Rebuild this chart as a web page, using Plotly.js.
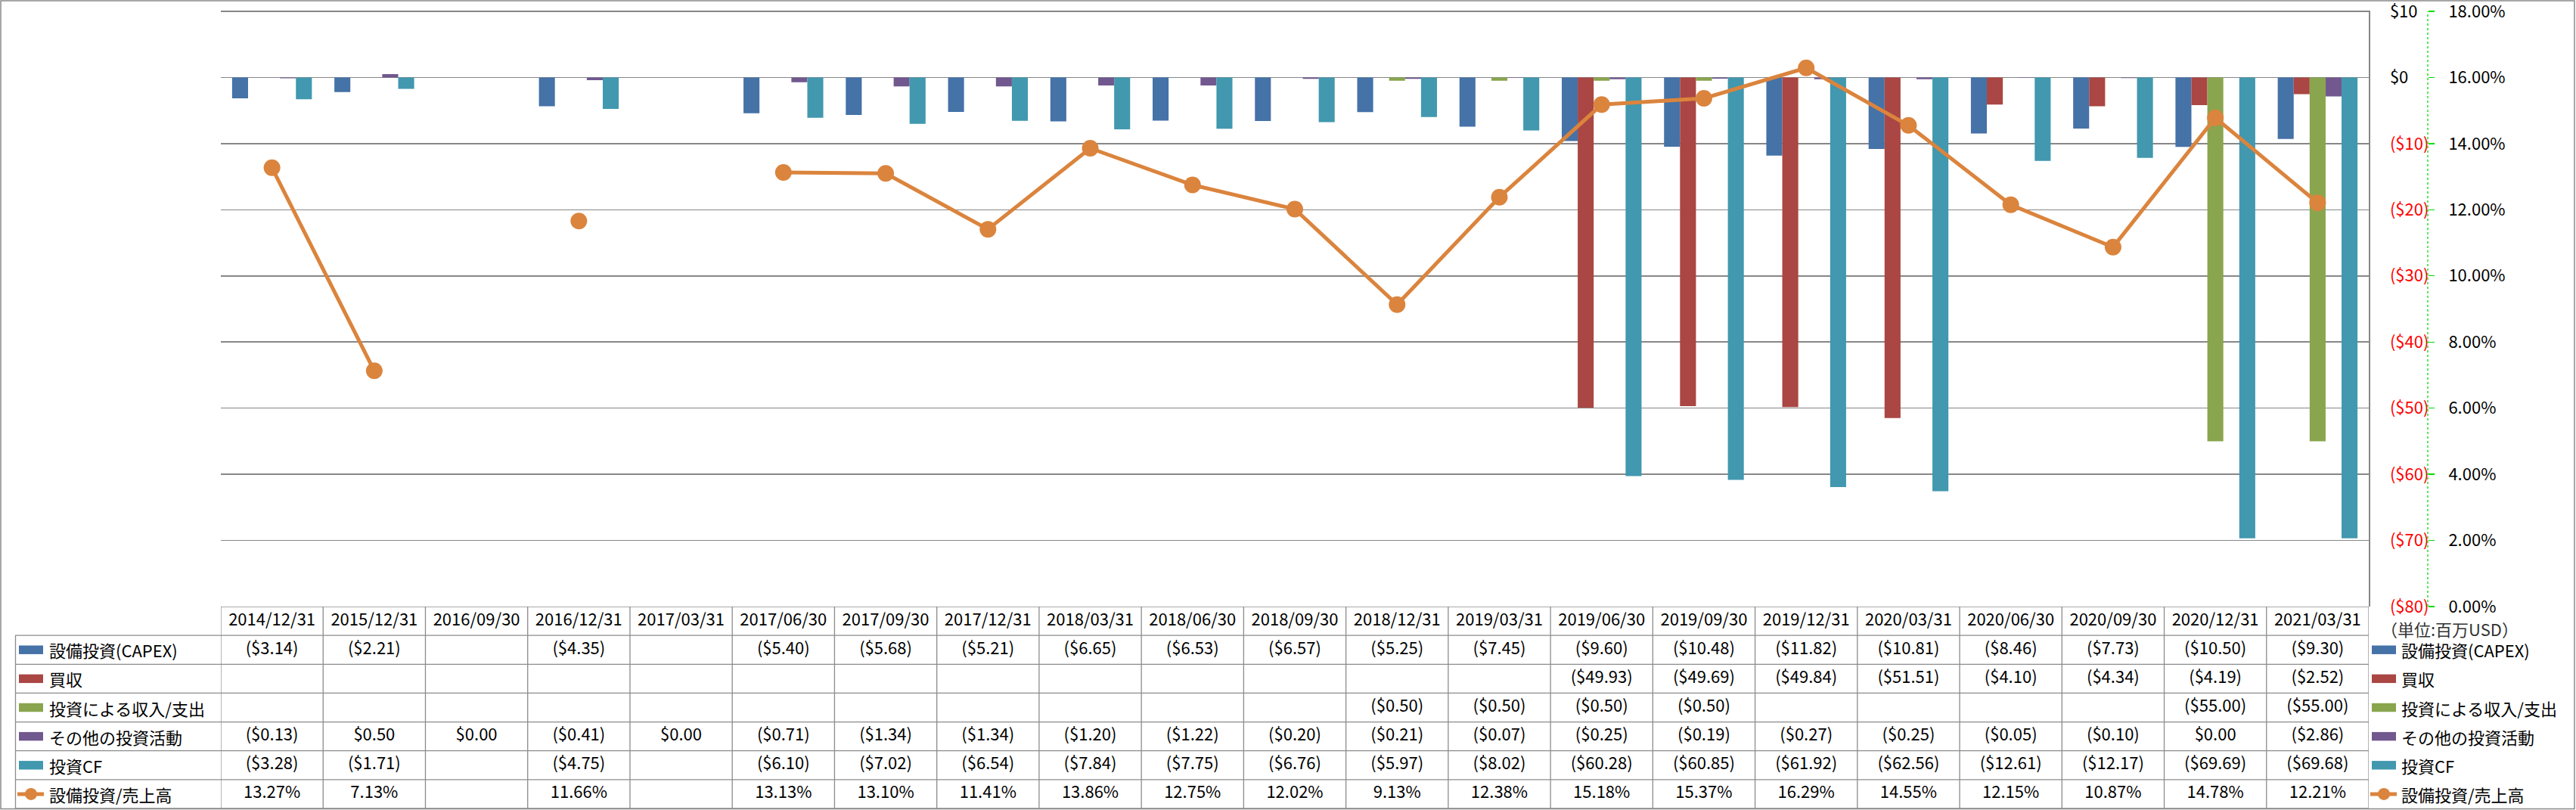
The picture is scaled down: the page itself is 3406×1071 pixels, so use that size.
<!DOCTYPE html>
<html>
<head>
<meta charset="utf-8">
<script src="https://cdn.plot.ly/plotly-3.0.1.min.js"></script>
<style>html,body{margin:0;padding:0;background:#fff;}#chart{width:3406px;height:1071px;}</style>
</head>
<body>
<div id="chart"></div>
<script>
// ---------- DATA ----------
const categories = ['2014/12/31','2015/12/31','2016/09/30','2016/12/31','2017/03/31','2017/06/30','2017/09/30','2017/12/31','2018/03/31','2018/06/30','2018/09/30','2018/12/31','2019/03/31','2019/06/30','2019/09/30','2019/12/31','2020/03/31','2020/06/30','2020/09/30','2020/12/31','2021/03/31'];
const capex        = [-3.14,-2.21,null,-4.35,null,-5.40,-5.68,-5.21,-6.65,-6.53,-6.57,-5.25,-7.45,-9.60,-10.48,-11.82,-10.81,-8.46,-7.73,-10.50,-9.30];
const acquisition  = [null,null,null,null,null,null,null,null,null,null,null,null,null,-49.93,-49.69,-49.84,-51.51,-4.10,-4.34,-4.19,-2.52];
const investIncome = [null,null,null,null,null,null,null,null,null,null,null,-0.50,-0.50,-0.50,-0.50,null,null,null,null,-55.00,-55.00];
const otherInvest  = [-0.13,0.50,0.00,-0.41,0.00,-0.71,-1.34,-1.34,-1.20,-1.22,-0.20,-0.21,-0.07,-0.25,-0.19,-0.27,-0.25,-0.05,-0.10,0.00,-2.86];
const investCF     = [-3.28,-1.71,null,-4.75,null,-6.10,-7.02,-6.54,-7.84,-7.75,-6.76,-5.97,-8.02,-60.28,-60.85,-61.92,-62.56,-12.61,-12.17,-69.69,-69.68];
const capexRatio   = [13.27,7.13,null,11.66,null,13.13,13.10,11.41,13.86,12.75,12.02,9.13,12.38,15.18,15.37,16.29,14.55,12.15,10.87,14.78,12.21];
const seriesNames  = ['設備投資(CAPEX)','買収','投資による収入/支出','その他の投資活動','投資CF','設備投資/売上高'];
const dollarTickVals = [10,0,-10,-20,-30,-40,-50,-60,-70,-80];
const dollarTickText = ['$10','$0','($10)','($20)','($30)','($40)','($50)','($60)','($70)','($80)'];
const pctTickVals = [0,2,4,6,8,10,12,14,16,18];
const pctTickText = ['0.00%','2.00%','4.00%','6.00%','8.00%','10.00%','12.00%','14.00%','16.00%','18.00%'];
const unitLabel = '（単位:百万USD）';

// ---------- STYLE ----------
const W = 3406, H = 1071;
const colors = ['#4572A7','#AA4643','#89A54E','#71588F','#4198AF','#DB843D'];
const FONT = '"Noto Sans CJK JP", "Noto Sans", sans-serif';
const gridGray = '#878787';
const tableGray = '#8C8C8C';
const px = v => v / W;        // pixel -> paper x
const py = v => 1 - v / H;    // pixel -> paper y

const plotLeft = 292, plotRight = 3132, plotTop = 15, plotBottom = 802;
const tableTop = 802, tableBottom = 1069;
// small headroom so the top gridline is not clipped at the plot edge
const yMin = -80, yMax = 10, headroom = 0.16;
const pxPerUnit = (plotBottom - plotTop) / (yMax - yMin);
const domTop = plotTop - headroom * pxPerUnit;
const pMin = 0, pMax = 18;

const barSeries = [capex, acquisition, investIncome, otherInvest, investCF];

const traces = [];
barSeries.forEach((vals, k) => {
  traces.push({
    type: 'bar', name: seriesNames[k], x: categories, y: vals,
    marker: {color: colors[k], line: {width: 0}},
    xaxis: 'x', yaxis: 'y', hoverinfo: 'skip'
  });
});
traces.push({
  type: 'scatter', mode: 'lines+markers', name: seriesNames[5],
  x: categories, y: capexRatio, connectgaps: false,
  line: {color: colors[5], width: 5},
  marker: {color: colors[5], size: 22},
  xaxis: 'x', yaxis: 'y2', hoverinfo: 'skip'
});

// table cells
function fmtMoney(v) {
  if (v === null || v === undefined) return '';
  const s = '$' + Math.abs(v).toFixed(2);
  return v < 0 ? '(' + s + ')' : s;
}
function fmtPct(v) { return (v === null || v === undefined) ? '' : v.toFixed(2) + '%'; }

traces.push({
  type: 'scatter', mode: 'text', x: categories, y: categories.map(() => 0),
  text: categories, textposition: 'middle center',
  textfont: {family: FONT, size: 22, color: '#000'},
  xaxis: 'x', yaxis: 'y3', hoverinfo: 'skip', cliponaxis: false
});
const rowsData = [...barSeries, capexRatio];
rowsData.forEach((vals, r) => {
  const xs = [], ys = [], ts = [];
  vals.forEach((v, i) => {
    if (v !== null) { xs.push(categories[i]); ys.push(r + 1); ts.push(r === 5 ? fmtPct(v) : fmtMoney(v)); }
  });
  traces.push({
    type: 'scatter', mode: 'text', x: xs, y: ys, text: ts, textposition: 'middle center',
    textfont: {family: FONT, size: 22, color: '#000'},
    xaxis: 'x', yaxis: 'y3', hoverinfo: 'skip', cliponaxis: false
  });
});

// shapes
const shapes = [];
// outer border
shapes.push({type: 'rect', xref: 'paper', yref: 'paper', x0: px(1), x1: px(W - 2), y0: py(H - 1.5), y1: py(1),
  line: {color: '#8A8A8A', width: 1.5}, fillcolor: 'rgba(0,0,0,0)', layer: 'above'});
// table horizontal lines
shapes.push({type: 'line', xref: 'x', yref: 'y3', x0: -0.5, x1: categories.length - 0.5, y0: -0.5, y1: -0.5,
  line: {color: tableGray, width: 1.3}});
for (let r = 0; r <= 6; r++) {
  shapes.push({type: 'line', xref: 'paper', yref: 'y3', x0: px(20), x1: px(plotRight), y0: r + 0.5, y1: r + 0.5,
    line: {color: tableGray, width: 1.3}});
}
// table vertical lines
for (let i = 0; i <= categories.length; i++) {
  shapes.push({type: 'line', xref: 'x', yref: 'y3', x0: i - 0.5, x1: i - 0.5, y0: -0.5, y1: 6.5,
    line: {color: tableGray, width: 1.3}});
}
shapes.push({type: 'line', xref: 'paper', yref: 'y3', x0: px(20.5), x1: px(20.5), y0: 0.5, y1: 6.5,
  line: {color: tableGray, width: 1.3}});
// secondary axis dotted line
shapes.push({type: 'line', xref: 'paper', yref: 'paper', x0: px(3210), x1: px(3210), y0: py(plotBottom), y1: py(plotTop),
  line: {color: '#00DD00', width: 1.3, dash: 'dot'}});

// legend keys (left column and right side)
const annotations = [];
[[25, 57, 63], [3136, 3168, 3173]].forEach(([k0, k1, tx]) => {
  for (let r = 0; r < 6; r++) {
    const yc = r + 1;
    if (r < 5) {
      shapes.push({type: 'rect', xref: 'paper', yref: 'y3', x0: px(k0), x1: px(k1), y0: yc - 0.15, y1: yc + 0.15,
        fillcolor: colors[r], line: {width: 0}});
    } else {
      shapes.push({type: 'line', xref: 'paper', yref: 'y3', x0: px(k0 - 2), x1: px(k1 + 1), y0: yc, y1: yc,
        line: {color: colors[5], width: 5}});
      const cx = (k0 + k1) / 2;
      const cy = tableTop + (yc + 0.5) * (tableBottom - tableTop) / 7;
      shapes.push({type: 'circle', xref: 'paper', yref: 'paper', x0: px(cx - 8), x1: px(cx + 8),
        y0: py(cy + 8), y1: py(cy - 8), fillcolor: colors[5], line: {width: 0}});
    }
    annotations.push({xref: 'paper', yref: 'y3', x: px(tx), y: yc, xanchor: 'left', yanchor: 'middle',
      text: seriesNames[r], showarrow: false, font: {family: FONT, size: 22, color: '#000'}});
  }
});
annotations.push({xref: 'paper', yref: 'paper', x: px(3146), y: py(831), xanchor: 'left', yanchor: 'middle',
  text: unitLabel, showarrow: false, font: {family: FONT, size: 22, color: '#333'}});

const layout = {
  width: W, height: H,
  margin: {l: 0, r: 0, t: 0, b: 0, pad: 0},
  paper_bgcolor: '#fff', plot_bgcolor: 'rgba(0,0,0,0)',
  showlegend: false,
  barmode: 'group', bargap: 0.22, bargroupgap: 0,
  font: {family: FONT, size: 22, color: '#000'},
  xaxis: {
    domain: [px(plotLeft), px(plotRight)], type: 'category', categoryarray: categories, categoryorder: 'array',
    range: [-0.5, categories.length - 0.5], showticklabels: false, ticks: '', showgrid: false, zeroline: false,
    showline: false, anchor: 'y', fixedrange: true
  },
  yaxis: {
    domain: [py(plotBottom), py(domTop)], range: [yMin, yMax + headroom], anchor: 'x', side: 'right',
    tickvals: dollarTickVals,
    ticktext: dollarTickText.map((t, i) => dollarTickVals[i] < 0 ? '<span style="color:#FF0000">' + t + '</span>' : t),
    tickfont: {family: FONT, size: 22, color: '#000'}, ticklabeloverflow: 'allow',
    showgrid: true, gridcolor: gridGray, gridwidth: 1.5, zeroline: false,
    showline: true, linecolor: gridGray, linewidth: 1.5, ticks: '', ticklabelstandoff: 22
  },
  yaxis2: {
    overlaying: 'y', side: 'right', anchor: 'free', position: px(3210),
    range: [pMin, pMax + headroom * (pMax - pMin) / (yMax - yMin)],
    tickvals: pctTickVals, ticktext: pctTickText,
    tickfont: {family: FONT, size: 22, color: '#000'}, ticklabeloverflow: 'allow',
    showgrid: false, zeroline: false, showline: false,
    ticks: 'outside', ticklen: 8, tickcolor: '#00DD00', tickwidth: 1.3, ticklabelstandoff: 14
  },
  yaxis3: {
    domain: [py(tableBottom), py(tableTop)], range: [6.5, -0.5], anchor: 'x',
    showgrid: false, zeroline: false, showticklabels: false, ticks: '', showline: false
  },
  shapes: shapes,
  annotations: annotations
};

Plotly.newPlot('chart', traces, layout, {staticPlot: true, displayModeBar: false});
</script>
</body>
</html>
